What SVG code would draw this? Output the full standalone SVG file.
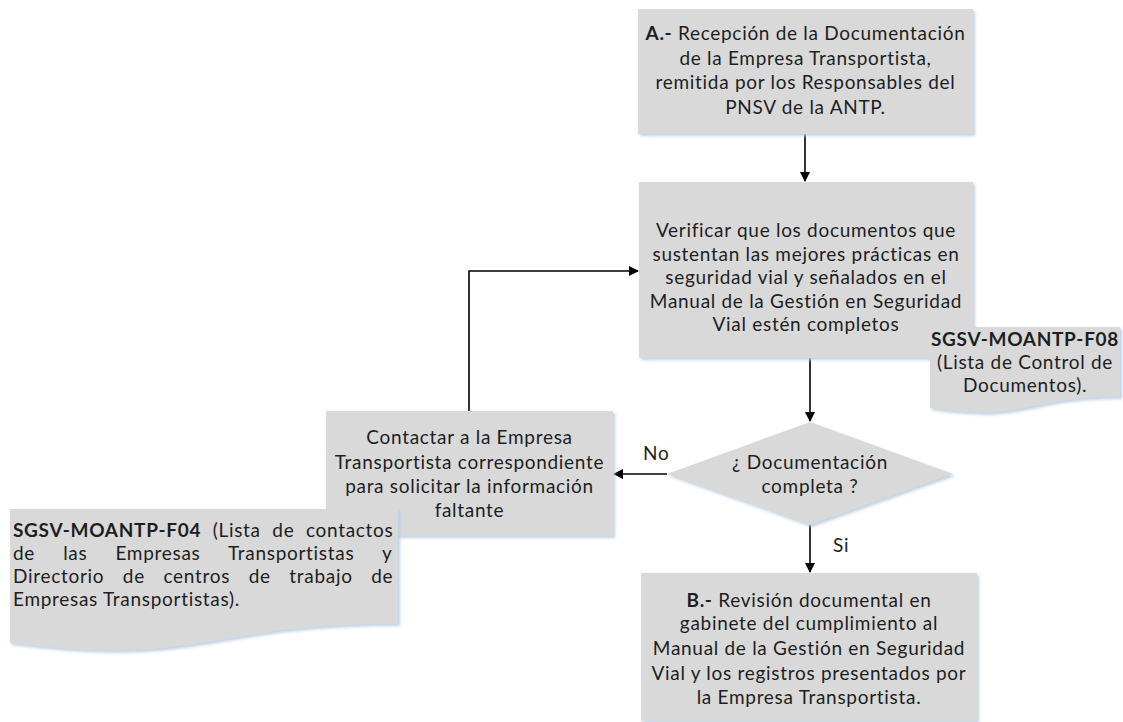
<svg xmlns="http://www.w3.org/2000/svg" width="1123" height="722" viewBox="0 0 1123 722">
<defs>
<filter id="sh" x="-5%" y="-5%" width="112%" height="115%">
<feDropShadow dx="2" dy="2" stdDeviation="1.5" flood-color="#b8cce4" flood-opacity="0.9"/>
</filter>
<marker id="arr" markerWidth="10" markerHeight="10" refX="9" refY="5" orient="auto" markerUnits="userSpaceOnUse">
<path d="M0,0 L10,5 L0,10 Z" fill="#000"/>
</marker>
</defs>
<style>
.shape{fill:#d9d9d9;filter:url(#sh)}
text{font-family:Lato,"Liberation Sans",sans-serif;font-size:19px;letter-spacing:0.7px;fill:#1e1e1e}
.c{text-anchor:middle}
.b{font-weight:bold}
.conn{stroke:#000;stroke-width:1.6;fill:none;marker-end:url(#arr)}
</style>
<rect width="1123" height="722" fill="#fff"/>

<g id="connectors">
<line class="conn" x1="805" y1="134" x2="805" y2="181"/>
<line class="conn" x1="810" y1="358" x2="810" y2="421"/>
<line class="conn" x1="667" y1="474" x2="614" y2="474"/>
<line class="conn" x1="810" y1="525" x2="810" y2="572"/>
<polyline class="conn" points="469,411 469,271 638,271"/>
<text x="643" y="460">No</text>
<text x="833" y="552">Si</text>
</g>

<g id="nodeA">
<rect class="shape" x="638" y="9" width="335" height="125"/>
<text class="c" x="805.5" y="40"><tspan class="b">A.-</tspan> Recepción de la Documentación</text>
<text class="c" x="805.5" y="64.5">de la Empresa Transportista,</text>
<text class="c" x="805.5" y="89">remitida por los Responsables del</text>
<text class="c" x="805.5" y="113.5">PNSV de la ANTP.</text>
</g>

<g id="nodeVerificar">
<rect class="shape" x="639" y="182" width="334" height="176"/>
<text class="c" x="806" y="237">Verificar que los documentos que</text>
<text class="c" x="806" y="260.5">sustentan las mejores prácticas en</text>
<text class="c" x="806" y="284">seguridad vial y señalados en el</text>
<text class="c" x="806" y="307.5">Manual de la Gestión en Seguridad</text>
<text class="c" x="806" y="331">Vial estén completos</text>
</g>

<g id="docF08">
<path class="shape" d="M930,327 H1120 V397 C1025,397 1025,423 930,408 Z"/>
<text class="c b" x="1025" y="346">SGSV-MOANTP-F08</text>
<text class="c" x="1025" y="369">(Lista de Control de</text>
<text class="c" x="1025" y="392">Documentos).</text>
</g>

<g id="decision">
<polygon class="shape" points="810,422 953,474 810,525 667,474"/>
<text class="c" x="810" y="469">¿ Documentación</text>
<text class="c" x="810" y="493">completa ?</text>
</g>

<g id="nodeContactar">
<rect class="shape" x="326" y="411" width="287" height="125"/>
<text class="c" x="469.5" y="444">Contactar a la Empresa</text>
<text class="c" x="469.5" y="469">Transportista correspondiente</text>
<text class="c" x="469.5" y="493">para solicitar la información</text>
<text class="c" x="469.5" y="517">faltante</text>
</g>

<g id="docF04">
<path class="shape" d="M10,509 H398 V624 C204,624 204,668 10,643 Z"/>
<text x="13" y="537" style="word-spacing:6px"><tspan class="b">SGSV-MOANTP-F04</tspan> (Lista de contactos</text>
<text x="13" y="560" style="word-spacing:22.5px">de las Empresas Transportistas y</text>
<text x="13" y="583" style="word-spacing:13px">Directorio de centros de trabajo de</text>
<text x="13" y="606">Empresas Transportistas).</text>
</g>

<g id="nodeB">
<rect class="shape" x="641" y="573" width="336" height="148"/>
<text class="c" x="809" y="607"><tspan class="b">B.-</tspan> Revisión documental en</text>
<text class="c" x="809" y="630">gabinete del cumplimiento al</text>
<text class="c" x="809" y="655">Manual de la Gestión en Seguridad</text>
<text class="c" x="809" y="680">Vial y los registros presentados por</text>
<text class="c" x="809" y="704">la Empresa Transportista.</text>
</g>
</svg>
